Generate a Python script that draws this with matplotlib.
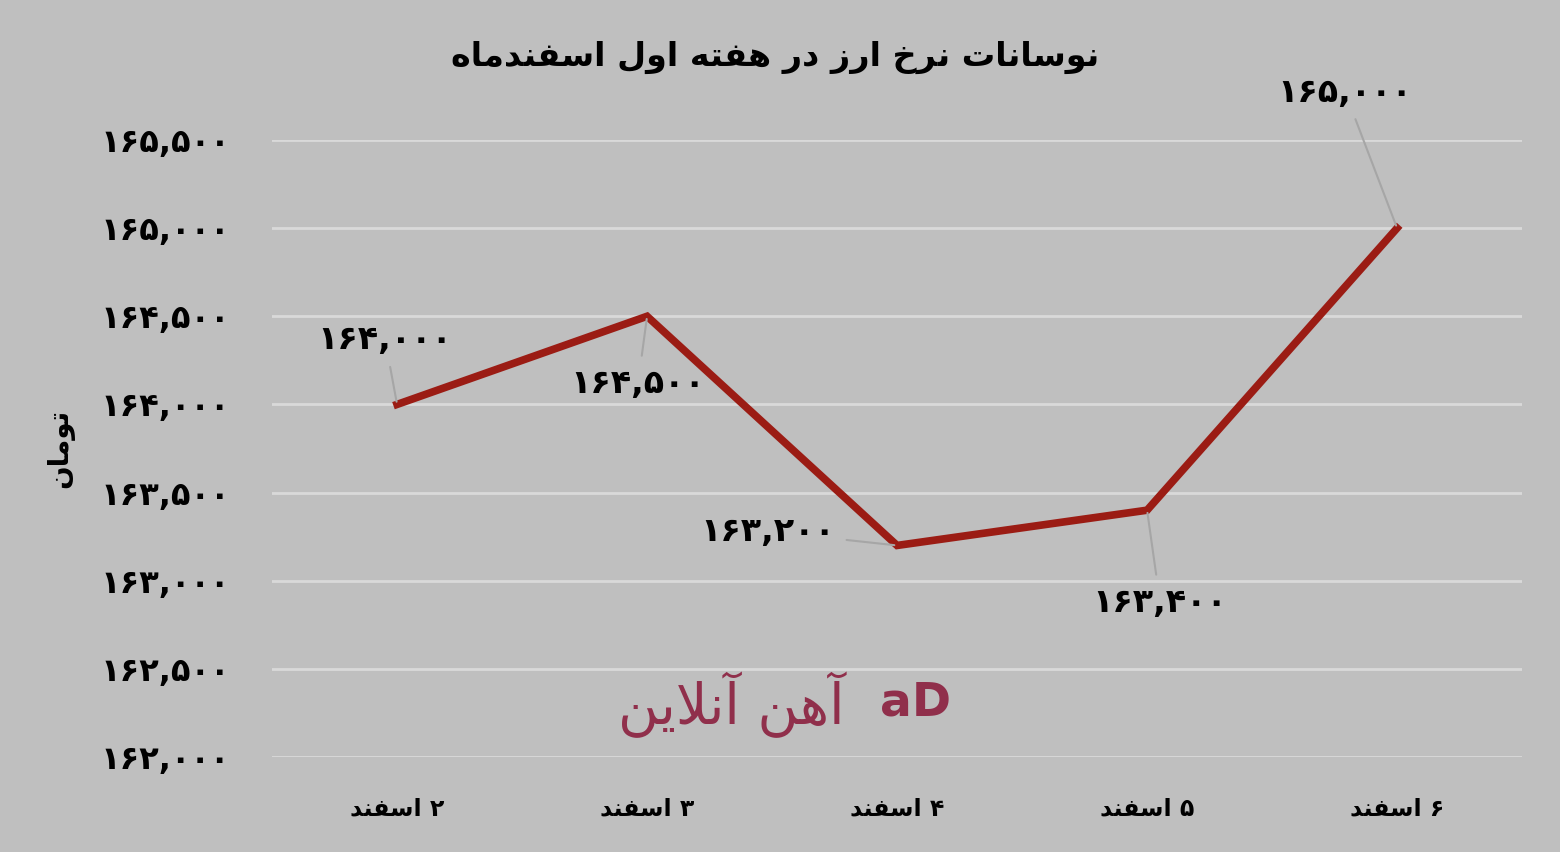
import matplotlib
matplotlib.use('Agg')
import matplotlib.pyplot as plt

plt.rcParams['font.family'] = ['DejaVu Sans']

# داده‌ها
dates = ['۲ اسفند', '۳ اسفند', '۴ اسفند', '۵ اسفند', '۶ اسفند']
prices = [164000, 164500, 163200, 163400, 165000]
yticks = [162000, 162500, 163000, 163500, 164000, 164500, 165000, 165500]
title = 'نوسانات نرخ ارز در هفته اول اسفندماه'
ylabel = 'تومان'
watermark = 'آهن آنلاین'

# شکل‌دهی ساده حروف فارسی (matplotlib خودش این کار را نمی‌کند)
FORMS = {
    'ا': ('\uFE8D', '\uFE8E', None, None),
    'آ': ('\uFE81', '\uFE82', None, None),
    'د': ('\uFEA9', '\uFEAA', None, None),
    'ر': ('\uFEAD', '\uFEAE', None, None),
    'ز': ('\uFEAF', '\uFEB0', None, None),
    'و': ('\uFEED', '\uFEEE', None, None),
    'ت': ('\uFE95', '\uFE96', '\uFE97', '\uFE98'),
    'خ': ('\uFEA5', '\uFEA6', '\uFEA7', '\uFEA8'),
    'س': ('\uFEB1', '\uFEB2', '\uFEB3', '\uFEB4'),
    'ف': ('\uFED1', '\uFED2', '\uFED3', '\uFED4'),
    'ل': ('\uFEDD', '\uFEDE', '\uFEDF', '\uFEE0'),
    'م': ('\uFEE1', '\uFEE2', '\uFEE3', '\uFEE4'),
    'ن': ('\uFEE5', '\uFEE6', '\uFEE7', '\uFEE8'),
    'ه': ('\uFEE9', '\uFEEA', '\uFEEB', '\uFEEC'),
    'ی': ('\uFBFC', '\uFBFD', '\uFBFE', '\uFBFF'),
}


def shape(word):
    out = []
    i = 0
    n = len(word)
    while i < n:
        c = word[i]
        if c not in FORMS:
            out.append(c)
            i += 1
            continue
        prev = word[i - 1] if i > 0 else ''
        joins_prev = prev in FORMS and FORMS[prev][2] is not None and out and out[-1] != ' '
        nxt = word[i + 1] if i + 1 < n else ''
        # لام الف
        if c == 'ل' and nxt == 'ا':
            out.append('\uFEFC' if joins_prev else '\uFEFB')
            i += 2
            continue
        joins_next = FORMS[c][2] is not None and nxt in FORMS
        iso, fin, ini, med = FORMS[c]
        if joins_prev and joins_next:
            out.append(med)
        elif joins_prev:
            out.append(fin)
        elif joins_next:
            out.append(ini)
        else:
            out.append(iso)
        i += 1
    return ''.join(out)


def fa(text):
    # شکل‌دهی و چیدن راست به چپ
    words = text.split(' ')
    vis = []
    for w in reversed(words):
        if any(ch in FORMS for ch in w):
            vis.append(shape(w)[::-1])
        else:
            vis.append(w)
    return ' '.join(vis)


def fa_num(v):
    s = f'{v:,}'
    return s.translate(str.maketrans('0123456789', '۰۱۲۳۴۵۶۷۸۹'))


bg = '#bfbfbf'
fig = plt.figure(figsize=(15.6, 8.52), dpi=100, facecolor=bg)
ax = fig.add_axes([0.1744, 0.1115, 0.8013, 0.7242], facecolor=bg)

x = list(range(len(dates)))
ax.plot(x, prices, color='#9b1c14', lw=5.5, solid_joinstyle='miter', zorder=3)

ax.set_xlim(-0.5, 4.5)
ax.set_ylim(162000, 165500)
ax.set_yticks(yticks)
ax.set_yticklabels([fa_num(v) for v in yticks], fontsize=23, fontweight='bold')
ax.set_xticks(x)
ax.set_xticklabels([fa(d) for d in dates], fontsize=17, fontweight='bold')
ax.tick_params(length=0)
ax.tick_params(axis='y', pad=30)
ax.tick_params(axis='x', pad=28)
ax.grid(axis='y', color='#d9d9d9', lw=2)
ax.set_axisbelow(True)
for s in ax.spines.values():
    s.set_visible(False)

ax.set_ylabel(fa(ylabel), fontsize=20, fontweight='bold')
ax.yaxis.set_label_coords(-0.158, 0.5)

fig.text(0.497, 0.932, fa(title), ha='center', va='center', fontsize=24, fontweight='bold')

# برچسب‌های داده
offsets = [(-12, 65), (-9, -67), (-129, 14), (13, -92), (-52, 136)]
for xi, yi, off in zip(x, prices, offsets):
    ax.annotate(fa_num(yi), xy=(xi, yi), xytext=off, textcoords='offset pixels',
                ha='center', va='center', fontsize=24, fontweight='bold',
                arrowprops=dict(arrowstyle='-', color='#a6a6a6', lw=1.5, shrinkA=6, shrinkB=2),
                zorder=4)

# واترمارک
fig.text(0.469, 0.173, fa(watermark), ha='center', va='center', fontsize=40,
         color='#8b1f3f', alpha=0.9)
fig.text(0.587, 0.175, 'aD', ha='center', va='center', fontsize=34, fontweight='bold',
         color='#8b1f3f', alpha=0.9)

fig.savefig('out.png', dpi=100, facecolor=bg)
